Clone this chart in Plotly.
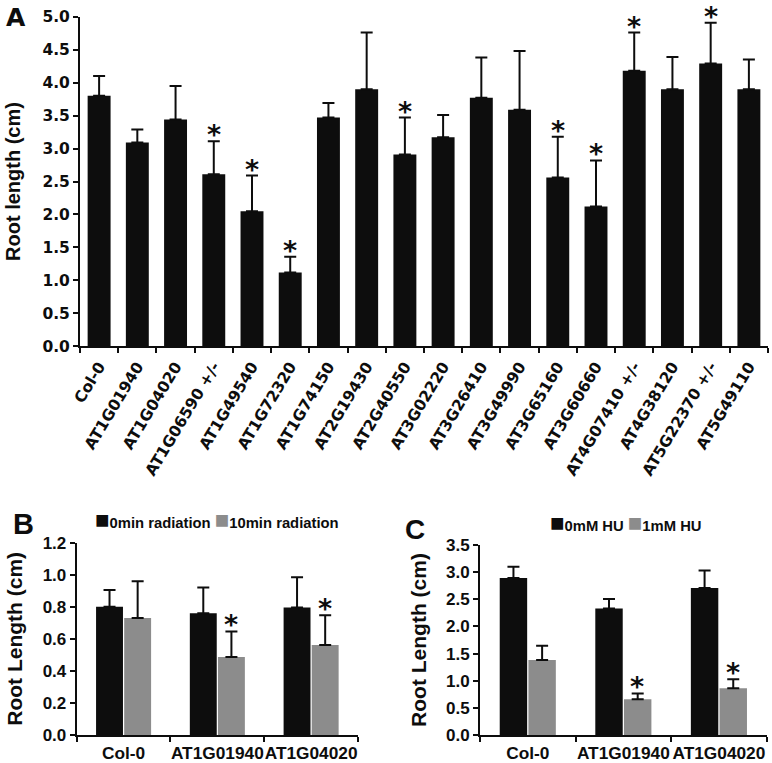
import plotly.graph_objects as go

# ---------------- data ----------------
genes_a = ["Col-0", "AT1G01940", "AT1G04020", "AT1G06590 +/-", "AT1G49540", "AT1G72320",
           "AT1G74150", "AT2G19430", "AT2G40550", "AT3G02220", "AT3G26410", "AT3G49990",
           "AT3G65160", "AT3G60660", "AT4G07410 +/-", "AT4G38120", "AT5G22370 +/-", "AT5G49110"]
root_a = [3.80, 3.09, 3.44, 2.61, 2.05, 1.12, 3.47, 3.90, 2.91, 3.17, 3.77, 3.59,
          2.56, 2.12, 4.18, 3.90, 4.29, 3.90]
err_a = [0.30, 0.20, 0.51, 0.50, 0.54, 0.24, 0.22, 0.86, 0.56, 0.34, 0.61, 0.89,
         0.62, 0.70, 0.58, 0.49, 0.62, 0.45]
sig_a = [False, False, False, True, True, True, False, False, True, False, False, False,
         True, True, True, False, True, False]

lines_bc = ["Col-0", "AT1G01940", "AT1G04020"]
rad0 = [0.80, 0.76, 0.795]
rad0_err = [0.105, 0.16, 0.19]
rad10 = [0.73, 0.486, 0.562]
rad10_err = [0.23, 0.16, 0.185]
sig_rad10 = [False, True, True]

hu0 = [2.89, 2.33, 2.71]
hu0_err = [0.21, 0.175, 0.32]
hu1 = [1.38, 0.66, 0.86]
hu1_err = [0.265, 0.105, 0.165]
sig_hu1 = [False, True, True]

# ---------------- style ----------------
W, H = 772, 763
BLACK = "#0d0d0d"
GRAY = "#8c8c8c"
ARIAL = "Liberation Sans, Arial, sans-serif"
DEJAVU = "DejaVu Sans, sans-serif"


def px_x(p):
    return p / W


def px_y(p):
    return 1 - p / H


def fnt(fam, size):
    return dict(family=fam, size=size, color=BLACK, weight="bold")


def err(arr, color=BLACK, width=6):
    return dict(type="data", array=arr, arrayminus=[0] * len(arr), symmetric=False,
                color=color, thickness=2, width=width, visible=True)


BARGAP_BC = 0.426

fig = go.Figure()

# Panel A
fig.add_trace(go.Bar(x=genes_a, y=root_a, marker=dict(color=BLACK, line=dict(width=0)),
                     error_y=err(err_a), xaxis="x", yaxis="y", showlegend=False))

# Panel B
fig.add_trace(go.Bar(x=lines_bc, y=rad0, name="0min radiation", marker=dict(color=BLACK, line=dict(width=0)),
                     error_y=err(rad0_err), xaxis="x2", yaxis="y2", offsetgroup="b0", showlegend=False))
fig.add_trace(go.Bar(x=lines_bc, y=rad10, name="10min radiation", marker=dict(color=GRAY, line=dict(width=0)),
                     error_y=err(rad10_err), xaxis="x2", yaxis="y2", offsetgroup="b1", showlegend=False))

# Panel C
fig.add_trace(go.Bar(x=lines_bc, y=hu0, name="0mM HU", marker=dict(color=BLACK, line=dict(width=0)),
                     error_y=err(hu0_err), xaxis="x3", yaxis="y3", offsetgroup="c0", showlegend=False))
fig.add_trace(go.Bar(x=lines_bc, y=hu1, name="1mM HU", marker=dict(color=GRAY, line=dict(width=0)),
                     error_y=err(hu1_err), xaxis="x3", yaxis="y3", offsetgroup="c1", showlegend=False))

for tr in fig.data[1:]:
    tr.width = (1 - BARGAP_BC) / 2

# domains (pixel based)
xa_dom = [px_x(80), px_x(768)]
ya_dom = [px_y(346.3), px_y(16.7)]
xb_dom = [px_x(76.7), px_x(358)]
yb_dom = [px_y(735), px_y(542.7)]
xc_dom = [px_x(480), px_x(766.7)]
yc_dom = [px_y(735), px_y(545)]

common_y = dict(showline=True, linecolor=BLACK, linewidth=2, ticks="outside", ticklen=5,
                tickwidth=2, tickcolor=BLACK, showgrid=False, zeroline=False, tickformat=".1f",
                automargin=False)
common_x = dict(showline=True, linecolor=BLACK, linewidth=2, ticks="outside", ticklen=5,
                tickwidth=2, tickcolor=BLACK, showgrid=False, tickson="boundaries",
                type="category", automargin=False, zeroline=False)

annotations = []


def stars(xref, yref, cats, tops, flags, xshift, size):
    for c, t, f in zip(cats, tops, flags):
        if f:
            annotations.append(dict(x=c, y=t, xref=xref, yref=yref, text="*",
                                    showarrow=False, yanchor="bottom", xanchor="center",
                                    xshift=xshift, yshift=-11,
                                    font=fnt(DEJAVU, size)))


stars("x", "y", genes_a, [v + e for v, e in zip(root_a, err_a)], sig_a, 0, 27)

b_cat_w = (xb_dom[1] - xb_dom[0]) * W / len(lines_bc)
b_shift = b_cat_w * (1 - BARGAP_BC) / 4
c_cat_w = (xc_dom[1] - xc_dom[0]) * W / len(lines_bc)
c_shift = c_cat_w * (1 - BARGAP_BC) / 4
stars("x2", "y2", lines_bc, [v + e for v, e in zip(rad10, rad10_err)], sig_rad10, b_shift, 27)
stars("x3", "y3", lines_bc, [v + e for v, e in zip(hu1, hu1_err)], sig_hu1, c_shift, 27)

# panel letters
for letter, lx, ly, fam, sz in [("A", 4, 1, DEJAVU, 25), ("B", 11, 506, ARIAL, 29), ("C", 403, 512, ARIAL, 28)]:
    annotations.append(dict(x=px_x(lx), y=px_y(ly), xref="paper", yref="paper", text=letter,
                            showarrow=False, xanchor="left", yanchor="top", font=fnt(fam, sz)))


def legend_text(items):
    parts = []
    for col, lab in items:
        parts.append('<span style="color:%s;font-size:24px">■</span>%s' % (col, lab))
    return " ".join(parts)


annotations.append(dict(x=px_x(93), y=px_y(519), xref="paper", yref="paper",
                        text=legend_text([(BLACK, "0min radiation"), (GRAY, "10min radiation")]),
                        showarrow=False, xanchor="left", yanchor="middle", font=fnt(ARIAL, 14.8)))
annotations.append(dict(x=px_x(548), y=px_y(522.5), xref="paper", yref="paper",
                        text=legend_text([(BLACK, "0mM HU"), (GRAY, "1mM HU")]),
                        showarrow=False, xanchor="left", yanchor="middle", font=fnt(ARIAL, 14.8)))

fig.update_layout(
    template="none",
    width=W, height=H, margin=dict(l=0, r=0, t=0, b=0),
    paper_bgcolor="white", plot_bgcolor="white",
    barmode="group", bargap=0.4, bargroupgap=0,
    font=dict(family=ARIAL, color=BLACK),
    xaxis=dict(common_x, domain=xa_dom, anchor="y", range=[-0.5, 17.5], tickangle=-59,
               tickfont=fnt(DEJAVU, 15.5), ticklabelstandoff=3),
    yaxis=dict(common_y, domain=ya_dom, anchor="x", range=[0, 5], dtick=0.5,
               tickfont=fnt(DEJAVU, 15.5),
               title=dict(text="Root length (cm)", font=fnt(ARIAL, 20), standoff=16)),
    xaxis2=dict(common_x, domain=xb_dom, anchor="y2", range=[-0.5, 2.5], tickangle=0,
                tickfont=fnt(ARIAL, 17.3), ticklabelstandoff=1),
    yaxis2=dict(common_y, domain=yb_dom, anchor="x2", range=[0, 1.2], dtick=0.2,
                tickfont=fnt(ARIAL, 17),
                title=dict(text="Root Length (cm)", font=fnt(ARIAL, 21), standoff=14)),
    xaxis3=dict(common_x, domain=xc_dom, anchor="y3", range=[-0.5, 2.5], tickangle=0,
                tickfont=fnt(ARIAL, 17.3), ticklabelstandoff=1),
    yaxis3=dict(common_y, domain=yc_dom, anchor="x3", range=[0, 3.5], dtick=0.5,
                tickfont=fnt(ARIAL, 17),
                title=dict(text="Root Length (cm)", font=fnt(ARIAL, 21), standoff=14)),
    annotations=annotations,
)

fig.write_html("out.html", config={"displayModeBar": False},
               post_script="document.body.style.margin='0px';")
